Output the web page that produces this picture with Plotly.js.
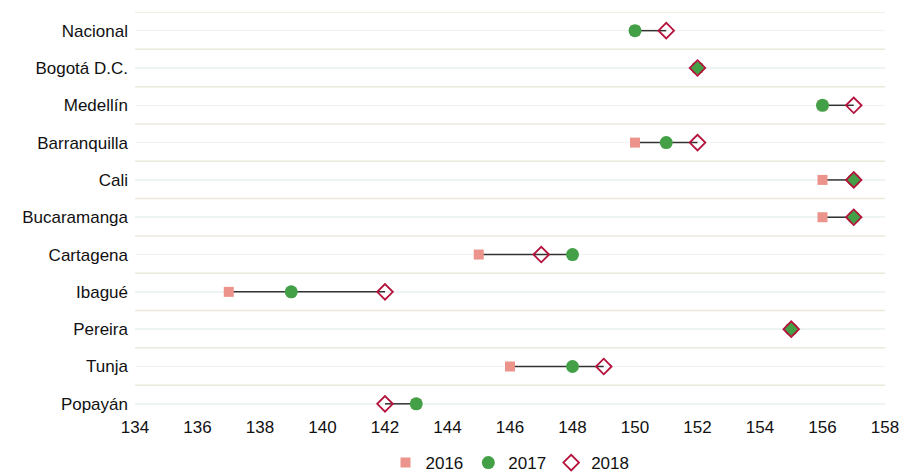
<!DOCTYPE html>
<html>
<head>
<meta charset="utf-8">
<script src="https://cdn.plot.ly/plotly-3.0.1.min.js"></script>
<style>html,body{margin:0;padding:0;background:#fff}#chart{width:899px;height:473px}</style>
</head>
<body>
<div id="chart"></div>
<script>
const cities = ["Nacional","Bogotá D.C.","Medellín","Barranquilla","Cali","Bucaramanga","Cartagena","Ibagué","Pereira","Tunja","Popayán"];
const v2016 = [150,152,156,150,156,156,145,137,155,146,143];
const v2017 = [150,152,156,151,157,157,148,139,155,148,143];
const v2018 = [151,152,157,152,157,157,147,142,155,149,142];
const xTicks = [134,136,138,140,142,144,146,148,150,152,154,156,158];

const lx = [], ly = [];
cities.forEach((c,i)=>{
  const vals=[v2016[i],v2017[i],v2018[i]];
  lx.push(Math.min(...vals), Math.max(...vals), null);
  ly.push(c, c, null);
});

const traces = [
  {x: lx, y: ly, mode:'lines', line:{color:'#333333', width:1.5}, showlegend:false, hoverinfo:'skip'},
  {x: v2016, y: cities, name:'2016', mode:'markers', marker:{symbol:'square', size:10, color:'#ec938c'}},
  {x: v2017, y: cities, name:'2017', mode:'markers', marker:{symbol:'circle', size:13, color:'#43a047'}},
  {x: v2018, y: cities, name:'2018', mode:'markers', marker:{symbol:'diamond-open', size:12, color:'#b5123c', line:{width:1.8, color:'#b5123c'}}}
];

const shapes = [];
for (let i=0;i<cities.length;i++){
  shapes.push({type:'line', xref:'paper', x0:0, x1:1, yref:'y', y0:i-0.5, y1:i-0.5, line:{color:'#ebe8dc', width:1.5}, layer:'below'});
}

const layout = {
  width:899, height:473,
  margin:{l:135, r:14, t:12, b:58, autoexpand:false},
  paper_bgcolor:'#ffffff', plot_bgcolor:'#ffffff',
  font:{family:'"Liberation Sans", Arial, sans-serif', size:17, color:'#111111'},
  xaxis:{range:[134,158], tickvals:xTicks, ticktext:xTicks.map(String), showgrid:false, zeroline:false, showline:false, ticks:'', tickfont:{size:17}, ticklabeloverflow:'allow'},
  yaxis:{type:'category', categoryorder:'array', categoryarray:cities, range:[10.3,-0.5], showgrid:true, gridcolor:'#eef4f4', gridwidth:1.5, zeroline:false, showline:false, ticks:'', ticklabelstandoff:6, tickfont:{size:17}},
  shapes: shapes,
  showlegend:true,
  legend:{orientation:'h', x:0.5, xref:'paper', xanchor:'center', y:0.021, yref:'container', yanchor:'middle', font:{size:17}, itemclick:false},
  hovermode:false
};
Plotly.newPlot('chart', traces, layout, {displayModeBar:false, staticPlot:true});
</script>
</body>
</html>
